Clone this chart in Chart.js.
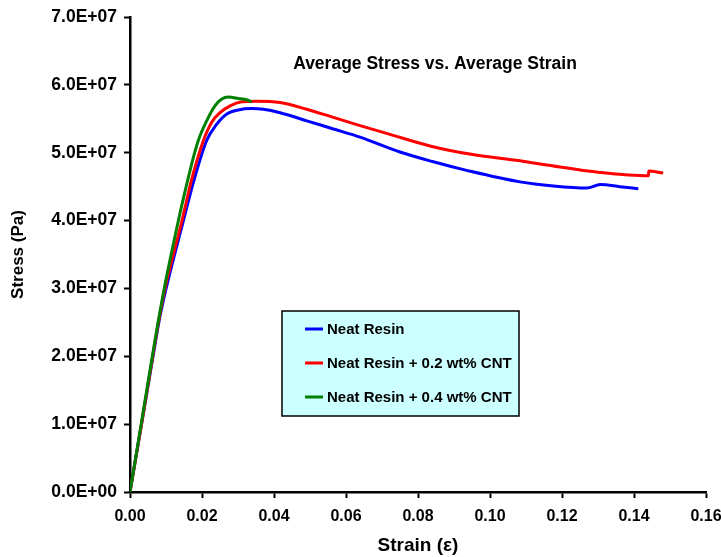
<!DOCTYPE html>
<html>
<head>
<meta charset="utf-8">
<script src="https://cdn.jsdelivr.net/npm/chart.js@4/dist/chart.umd.min.js"></script>
<style>
  body { margin: 0; background: #fff; }
  #wrap { width: 721px; height: 557px; }
</style>
</head>
<body>
<div id="wrap"><canvas id="stressChart" width="721" height="557"></canvas></div>
<script>
'use strict';

// Werte (Dehnung / Spannung in Pa)
const seriesNames = ['Neat Resin', 'Neat Resin + 0.2 wt% CNT', 'Neat Resin + 0.4 wt% CNT'];
const seriesColors = ['#0000FF', '#FF0000', '#008000'];

const strainNeat = [0, 0.0032, 0.0064, 0.008, 0.0099, 0.0148, 0.0178, 0.0213, 0.0241, 0.0269, 0.0301, 0.0338,
  0.037, 0.0417, 0.0491, 0.0565, 0.0639, 0.075, 0.084, 0.0935, 0.1083, 0.1176, 0.1269,
  0.1306, 0.1361, 0.1412];
const stressNeat = [0, 1.0e7, 2.0e7, 2.5e7, 2.97e7, 3.99e7, 4.6e7, 5.18e7, 5.42e7, 5.57e7, 5.63e7, 5.65e7,
  5.64e7, 5.59e7, 5.47e7, 5.35e7, 5.23e7, 5.01e7, 4.87e7, 4.74e7, 4.57e7, 4.51e7, 4.48e7,
  4.53e7, 4.50e7, 4.47e7];

const strain02 = [0, 0.0032, 0.0063, 0.0079, 0.0096, 0.0144, 0.0171, 0.0204, 0.0227, 0.025, 0.0278, 0.031,
  0.0352, 0.0417, 0.0491, 0.0565, 0.0639, 0.0722, 0.0833, 0.0944, 0.1083, 0.1157, 0.1306, 0.144,
  0.1441, 0.1481];
const stress02 = [0, 1.0e7, 2.0e7, 2.5e7, 2.97e7, 3.99e7, 4.6e7, 5.18e7, 5.45e7, 5.59e7, 5.69e7, 5.75e7,
  5.76e7, 5.74e7, 5.64e7, 5.52e7, 5.40e7, 5.27e7, 5.10e7, 4.98e7, 4.88e7, 4.82e7, 4.71e7, 4.66e7,
  4.73e7, 4.70e7];

const strain04 = [0, 0.0031, 0.0062, 0.0078, 0.0094, 0.0134, 0.0156, 0.0177, 0.0191, 0.0213, 0.0236, 0.0255,
  0.0273, 0.0301, 0.0324, 0.0338];
const stress04 = [0, 1.0e7, 2.0e7, 2.5e7, 2.97e7, 3.99e7, 4.5e7, 4.95e7, 5.2e7, 5.47e7, 5.69e7, 5.79e7,
  5.82e7, 5.80e7, 5.78e7, 5.75e7];

const xTicks = [0, 0.02, 0.04, 0.06, 0.08, 0.1, 0.12, 0.14, 0.16];
const yTicks = [0, 1e7, 2e7, 3e7, 4e7, 5e7, 6e7, 7e7];

const FONT = 'Arial, "Liberation Sans", sans-serif';

function toPoints(xs, ys) {
  return xs.map((x, i) => ({ x, y: ys[i] }));
}

// Format wie Excel: 7.0E+07
function sciLabel(v) {
  if (v === 0) return '0.0E+00';
  const exp = Math.floor(Math.log10(Math.abs(v)));
  const mant = v / Math.pow(10, exp);
  return `${mant.toFixed(1)}E${exp < 0 ? '-' : '+'}${String(Math.abs(exp)).padStart(2, '0')}`;
}

// Titel und Legende im Diagrammbereich
const overlayPlugin = {
  id: 'overlay',
  afterDraw(chart) {
    const ctx = chart.ctx;
    ctx.save();
    ctx.fillStyle = '#000';
    ctx.font = `bold 17.5px ${FONT}`;
    ctx.textAlign = 'center';
    ctx.textBaseline = 'middle';
    ctx.fillText('Average Stress vs. Average Strain', 435, 64);

    ctx.fillStyle = '#CCFFFF';
    ctx.fillRect(282, 311, 237, 105);
    ctx.strokeStyle = '#000';
    ctx.lineWidth = 1.5;
    ctx.strokeRect(282, 311, 237, 105);

    const rows = [329, 363, 397];
    ctx.font = `bold 15px ${FONT}`;
    ctx.textAlign = 'left';
    seriesNames.forEach((name, i) => {
      ctx.strokeStyle = seriesColors[i];
      ctx.lineWidth = 3;
      ctx.beginPath();
      ctx.moveTo(305, rows[i]);
      ctx.lineTo(323, rows[i]);
      ctx.stroke();
      ctx.fillStyle = '#000';
      ctx.fillText(name, 327, rows[i] + 1);
    });
    ctx.restore();
  },
};

const allSeries = [
  toPoints(strainNeat, stressNeat),
  toPoints(strain02, stress02),
  toPoints(strain04, stress04),
];

const ctx = document.getElementById('stressChart').getContext('2d');
new Chart(ctx, {
  type: 'scatter',
  data: {
    datasets: allSeries.map((pts, i) => ({
      label: seriesNames[i],
      data: pts,
      showLine: true,
      borderColor: seriesColors[i],
      backgroundColor: seriesColors[i],
      borderWidth: 3,
      pointRadius: 0,
      cubicInterpolationMode: 'monotone',
      order: 3 - i,
    })),
  },
  options: {
    responsive: false,
    animation: false,
    layout: { autoPadding: false, padding: { top: 17, right: 15, left: 0, bottom: 0 } },
    plugins: {
      legend: { display: false },
      tooltip: { enabled: false },
    },
    scales: {
      x: {
        type: 'linear',
        min: xTicks[0],
        max: xTicks[xTicks.length - 1],
        afterBuildTicks: scale => { scale.ticks = xTicks.map(v => ({ value: v })); },
        afterFit: scale => {
          scale.height = 65;
          scale.paddingLeft = 0;
          scale.paddingRight = 0;
        },
        border: { color: '#000', width: 2.5 },
        grid: { drawOnChartArea: false, drawTicks: true, tickLength: 6, tickColor: '#000', tickWidth: 2 },
        ticks: {
          color: '#000',
          padding: 9,
          maxRotation: 0,
          font: { family: FONT, size: 16, weight: 'bold' },
          callback: v => Number(v).toFixed(2),
        },
        title: {
          display: true,
          text: 'Strain (ε)',
          color: '#000',
          padding: { top: 0, bottom: 0 },
          font: { family: FONT, size: 19, weight: 'bold' },
        },
      },
      y: {
        type: 'linear',
        min: yTicks[0],
        max: yTicks[yTicks.length - 1],
        afterBuildTicks: scale => { scale.ticks = yTicks.map(v => ({ value: v })); },
        afterFit: scale => {
          scale.width = 130;
          scale.paddingTop = 0;
          scale.paddingBottom = 0;
        },
        border: { color: '#000', width: 2.5 },
        grid: { drawOnChartArea: false, drawTicks: true, tickLength: 6, tickColor: '#000', tickWidth: 2 },
        ticks: {
          color: '#000',
          padding: 7,
          font: { family: FONT, size: 17.5, weight: 'bold' },
          callback: v => sciLabel(v),
        },
        title: {
          display: true,
          text: 'Stress (Pa)',
          color: '#000',
          padding: { top: 8, bottom: 0 },
          font: { family: FONT, size: 17, weight: 'bold' },
        },
      },
    },
  },
  plugins: [overlayPlugin],
});
</script>
</body>
</html>
